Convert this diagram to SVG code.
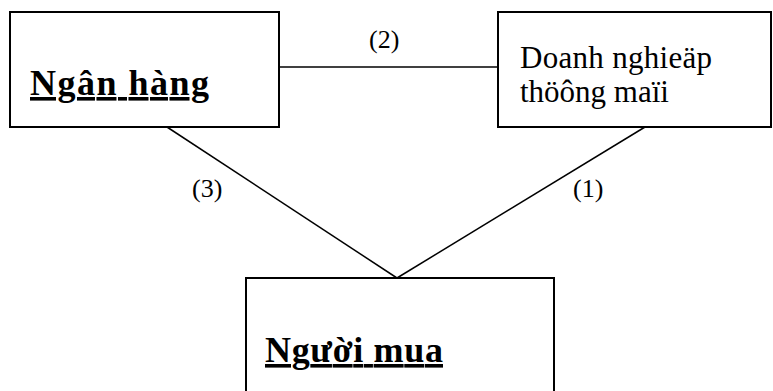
<svg xmlns="http://www.w3.org/2000/svg" width="773" height="391" viewBox="0 0 773 391">
<style>
.box{fill:#fff;stroke:#000;stroke-width:2}
.conn{stroke:#000;stroke-width:1.5;fill:none}
.title{font-family:"Liberation Serif","DejaVu Serif",serif;font-weight:bold;font-size:36px;fill:#000;text-decoration:underline}
.plain{font-family:"Liberation Serif","DejaVu Serif",serif;font-size:31px;fill:#000}
.lbl{font-family:"Liberation Serif","DejaVu Serif",serif;font-size:26px;fill:#000}
</style>
<rect width="773" height="391" fill="#fff"/>
<g id="connectors">
<line class="conn" x1="279" y1="67" x2="498" y2="67"/>
<line class="conn" x1="167" y1="127" x2="397" y2="278"/>
<line class="conn" x1="645" y1="127" x2="397" y2="278"/>
<text class="lbl" x="369" y="48">(2)</text>
<text class="lbl" x="192" y="197">(3)</text>
<text class="lbl" x="573" y="197">(1)</text>
</g>
<g id="ngan-hang">
<rect class="box" x="10" y="12" width="269" height="115"/>
<text class="title" x="30" y="95" textLength="179" lengthAdjust="spacing">Ngân hàng</text>
</g>
<g id="doanh-nghiep">
<rect class="box" x="498" y="12" width="273" height="115"/>
<text class="plain" x="520" y="68" textLength="192" lengthAdjust="spacing">Doanh nghieäp</text>
<text class="plain" x="520" y="102">thöông maïi</text>
</g>
<g id="nguoi-mua">
<rect class="box" x="246" y="278" width="308" height="130"/>
<text class="title" x="265" y="362" textLength="178" lengthAdjust="spacing">Người mua</text>
</g>
</svg>
